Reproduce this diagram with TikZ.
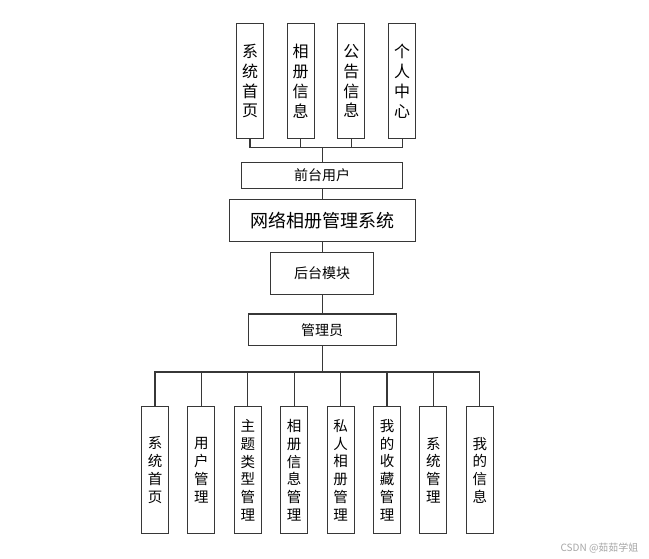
\documentclass[tikz,border=0pt]{standalone}
\usepackage{fontspec}
\newfontfamily\cjk{Noto Sans CJK SC}
\usetikzlibrary{positioning}
\definecolor{frame}{RGB}{55,55,55}
\tikzset{
  link/.style={draw=frame,line width=1.1pt},
  box/.style={draw=frame,line width=1.1pt,fill=white,inner sep=0pt,align=center},
  colbox/.style={box,minimum width=27pt,minimum height=115pt,
                 font=\cjk\fontsize{16}{19.7}\selectfont},
  leafbox/.style={box,minimum width=27pt,minimum height=127.3pt,
                  font=\cjk\fontsize{14.5}{17.8}\selectfont},
  barbox/.style={box,font=\cjk\fontsize{14}{16}\selectfont}
}

\begin{document}
\begin{tikzpicture}[node distance=22.6pt]
  \useasboundingbox (0,0) rectangle (649pt,-559pt);
  % front end modules
  \node[colbox] (home) at (250pt,-81.3pt) {系\\统\\首\\页};
  \node[colbox,right=of home] (album) {相\\册\\信\\息};
  \node[colbox,right=of album] (notice) {公\\告\\信\\息};
  \node[colbox,right=of notice] (mine) {个\\人\\中\\心};

  % main column
  \node[barbox,minimum width=161.3pt,minimum height=25.7pt] (front)
    at (322.2pt,-175.3pt) {前台用户};
  \node[barbox,minimum width=185.7pt,minimum height=42pt,below=10.6pt of front,
        font=\cjk\fontsize{18}{20}\selectfont] (sys) {网络相册管理系统};
  \node[barbox,minimum width=103pt,minimum height=42pt,below=9.7pt of sys] (back)
    {后台模块};
  \node[barbox,minimum width=148pt,minimum height=31.7pt,below=18.3pt of back] (admin)
    {管理员};
  \draw[link] (front)--(sys);
  \draw[link] (sys)--(back);
  \draw[link] (back)--(admin);

  % back end modules
  \begin{scope}[node distance=18.3pt]
    \node[leafbox] (leafhome) at (155pt,-470.2pt) {系\\统\\首\\页};
    \node[leafbox,right=of leafhome] (users) {用\\户\\管\\理};
    \node[leafbox,right=of users] (topics) {主\\题\\类\\型\\管\\理};
    \node[leafbox,right=of topics] (albums) {相\\册\\信\\息\\管\\理};
    \node[leafbox,right=of albums] (private) {私\\人\\相\\册\\管\\理};
    \node[leafbox,right=of private] (favs) {我\\的\\收\\藏\\管\\理};
    \node[leafbox,right=of favs] (settings) {系\\统\\管\\理};
    \node[leafbox,right=of settings] (profile) {我\\的\\信\\息};
  \end{scope}

  % tree connectors
  \draw[link] (front.north) -- ++(0,14.7pt) coordinate (fbus);
  \foreach \n in {home,album,notice,mine}
    \draw[link] (fbus) -| (\n.south);
  \draw[link] (admin.south) -- ++(0,-25.7pt) coordinate (abus);
  \foreach \n in {leafhome,users,topics,albums,private,favs,settings,profile}
    \draw[link] (abus) -| (\n.north);

  \node[anchor=east,text=black!35,font=\cjk\fontsize{10}{12}\selectfont] (mark)
    at (642pt,-548pt) {CSDN @茹茹学姐};
\end{tikzpicture}
\end{document}
